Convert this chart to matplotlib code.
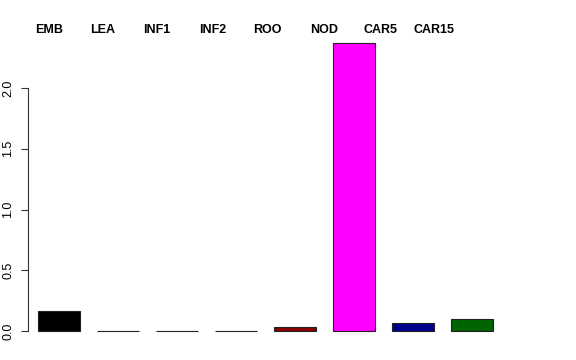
import matplotlib
matplotlib.use("Agg")
import matplotlib.pyplot as plt
import numpy as np

tissues = ["EMB", "LEA", "INF1", "INF2", "ROO", "NOD", "CAR5", "CAR15"]
values = [0.165, 0.004, 0.003, 0.003, 0.03, 2.37, 0.066, 0.10]
colors = ["#000000", "#8B2020", "#2E6B2E", "#20208B", "#8B0000", "#FF00FF", "#00008B", "#006400"]
yticks = [0.0, 0.5, 1.0, 1.5, 2.0]

W, H = 576, 360
fig = plt.figure(figsize=(W / 100, H / 100), dpi=100)
# plot region in pixels, R-like margins
left, right, top, bottom = 28, 560, 31.5, 342.5
ax = fig.add_axes([left / W, 1 - bottom / H, (right - left) / W, (bottom - top) / H])

# R barplot geometry: width 1, space 0.4
x = 0.4 + 1.4 * np.arange(len(values)) + 0.5
ax.bar(x, values, width=1.0, color=colors, edgecolor="#222222", linewidth=0.8)

ax.set_xlim((left - 21.1) / 42.14, (right - 21.1) / 42.14)
ax.set_ylim(-11.5 / 121.5, (331 - top) / 121.5)

for s in ["top", "right", "bottom"]:
    ax.spines[s].set_visible(False)
ax.spines["left"].set_bounds(0, 2.0)
ax.spines["left"].set_color("#333333")
ax.set_xticks([])
ax.set_yticks(yticks)
ax.set_yticklabels([f"{v:.1f}" for v in yticks], rotation=90, va="center",
                   fontsize=9, family="Liberation Sans")
ax.tick_params(axis="y", length=5, width=0.8, pad=5, colors="#333333", labelcolor="black")

# column labels along the top
label_px = [49, 103, 157, 213, 267, 324, 380, 434]
for name, px in zip(tissues, label_px):
    fig.text(px / W, 1 - 30 / H, name, ha="center", va="center",
             fontsize=9, fontweight="bold", family="Liberation Sans")

fig.savefig("out.png", dpi=100)
